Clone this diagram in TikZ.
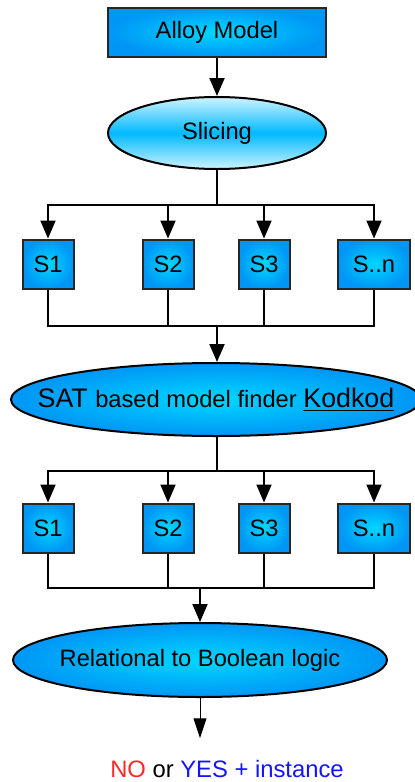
\documentclass[tikz,border=0pt]{standalone}
\usepackage{fontspec}
\setmainfont{Liberation Sans}
\usetikzlibrary{arrows.meta, shapes, calc}

\definecolor{cyanmid}{RGB}{0,215,255}
\definecolor{blueedge}{RGB}{0,150,245}
\definecolor{lightcyan}{RGB}{205,244,255}
\definecolor{slicemid}{RGB}{0,185,255}
\definecolor{nored}{RGB}{255,40,40}
\definecolor{yesblue}{RGB}{20,20,255}

\begin{document}
\begin{tikzpicture}[x=0.5pt, y=-0.5pt, line width=1pt,
    every node/.style={font=\fontsize{11.85}{14}\selectfont, inner sep=0pt},
    box/.style={rectangle, draw=black!85, line width=1pt, shading=radial, inner color=cyanmid, outer color=blueedge, minimum width=25.5pt, minimum height=24.5pt},
    blob/.style={ellipse, draw=black, line width=1pt, shading=radial, inner color=cyanmid, outer color=blueedge},
    >={Triangle[width=7.5pt,length=9pt]}]

    \useasboundingbox (0,0) rectangle (415,782);

    \node[box, minimum width=109pt] (alloy) at (217,32) {Alloy Model};
    \node[ellipse, draw, shading=axis, top color=lightcyan, bottom color=lightcyan, middle color=slicemid,
          minimum width=109pt, minimum height=36pt] (slice) at (217,133) {Slicing};

    \node[box] (s1a) at (48,264) {S1};
    \node[box] (s2a) at (168,264) {S2};
    \node[box] (s3a) at (264,264) {S3};
    \node[box, minimum width=36pt] (sna) at (374,264) {S..n};

    \node[blob, minimum width=205pt, minimum height=36.5pt,
          label={center:{\fontsize{13.4}{15}\selectfont SAT \fontsize{11.85}{14}\selectfont based model finder \fontsize{13.4}{15}\selectfont\underline{Kodkod}}}] (kodkod) at (216,399.5) {};

    \node[box] (s1b) at (48,528) {S1};
    \node[box] (s2b) at (168,528) {S2};
    \node[box] (s3b) at (264,528) {S3};
    \node[box, minimum width=36pt] (snb) at (374,528) {S..n};

    \node[blob, minimum width=187pt, minimum height=37pt,
          label={center:Relational to Boolean logic}] (bool) at (200,660) {};

    \node[font=\fontsize{11.9}{14}\selectfont] (out) at (227,769) {\color{nored}NO \color{black}or \color{yesblue}YES + instance};

    \coordinate (bus1) at (217,205);
    \coordinate (bus2) at (217,326);
    \coordinate (bus3) at (217,471);
    \coordinate (bus4) at (200,588);

    \draw[->] (alloy) -- (slice);
    \draw (slice) -- (bus1);
    \foreach \n in {s1a,s2a,s3a,sna}
        \draw[->] (bus1) -| (\n);
    \foreach \n in {s1a,s2a,s3a,sna}
        \draw (\n) |- (bus2);
    \draw[->] (bus2) -- (bus2 |- kodkod.north);

    \draw (bus3 |- kodkod.south) -- (bus3);
    \foreach \n in {s1b,s2b,s3b,snb}
        \draw[->] (bus3) -| (\n);
    \foreach \n in {s1b,s2b,s3b,snb}
        \draw (\n) |- (bus4);
    \draw[->] (bus4) -- (bool);

    \draw[-{Triangle[width=6.5pt,length=10pt]}, line width=0.5pt, shorten >=10.5pt] (bool) -- (bool |- out.north);
\end{tikzpicture}
\end{document}
